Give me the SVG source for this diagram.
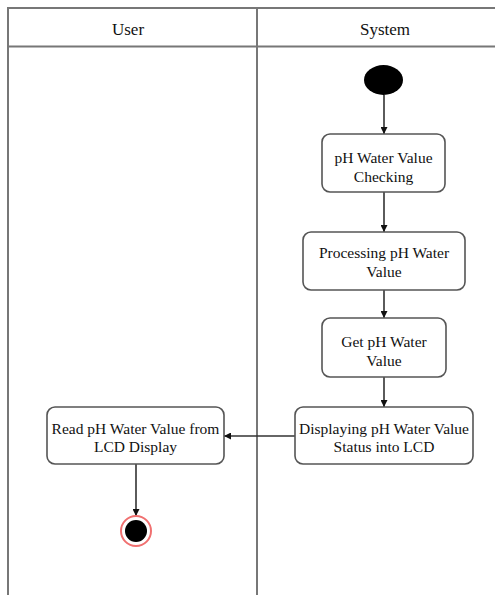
<svg xmlns="http://www.w3.org/2000/svg" width="495" height="595" viewBox="0 0 495 595">
  <style>
    .lane { stroke: #777777; stroke-width: 2; fill: none; }
    .box { fill: #ffffff; stroke: #555555; stroke-width: 1.6; }
    .flow { stroke: #333333; stroke-width: 1.6; fill: none; marker-end: url(#arrow); }
    text { font-family: "Liberation Serif", "DejaVu Serif", serif; font-size: 15.5px; fill: #111111; text-anchor: middle; }
    .head { font-size: 17px; }
  </style>
  <defs>
    <marker id="arrow" viewBox="0 0 10 10" refX="10" refY="5" markerWidth="7" markerHeight="7" markerUnits="userSpaceOnUse" orient="auto">
      <path d="M0,0 L10,5 L0,10 z" fill="#111111"/>
    </marker>
  </defs>

  <rect width="495" height="595" fill="#ffffff"/>

  <!-- swimlanes -->
  <g id="lanes">
    <line class="lane" x1="8" y1="8" x2="495" y2="8"/>
    <line class="lane" x1="8" y1="46.5" x2="495" y2="46.5"/>
    <line class="lane" x1="8" y1="7" x2="8" y2="595"/>
    <line class="lane" x1="257" y1="7" x2="257" y2="595"/>
    <text class="head" x="128" y="35">User</text>
    <text class="head" x="385" y="35">System</text>
  </g>

  <!-- connectors -->
  <g id="connectors">
    <line class="flow" x1="384" y1="95" x2="384" y2="134"/>
    <line class="flow" x1="384" y1="192" x2="384" y2="232"/>
    <line class="flow" x1="384" y1="290" x2="384" y2="318"/>
    <line class="flow" x1="384" y1="377" x2="384" y2="407"/>
    <line class="flow" x1="295" y1="436" x2="224" y2="436"/>
    <line class="flow" x1="136" y1="464" x2="136" y2="516"/>
  </g>

  <g id="start">
    <ellipse cx="383.5" cy="80" rx="19.5" ry="15" fill="#000000"/>
  </g>

  <g id="check">
    <rect class="box" x="322" y="134" width="123" height="58" rx="8"/>
    <text x="383.5" y="163">pH Water Value</text>
    <text x="383.5" y="182">Checking</text>
  </g>

  <g id="process">
    <rect class="box" x="303" y="232" width="162" height="58" rx="8"/>
    <text x="384" y="258">Processing pH Water</text>
    <text x="384" y="277">Value</text>
  </g>

  <g id="get">
    <rect class="box" x="322" y="318" width="124" height="59" rx="8"/>
    <text x="384" y="347">Get pH Water</text>
    <text x="384" y="366">Value</text>
  </g>

  <g id="display">
    <rect class="box" x="295" y="407" width="178" height="57" rx="8"/>
    <text x="384" y="434">Displaying pH Water Value</text>
    <text x="384" y="452">Status into LCD</text>
  </g>

  <g id="read">
    <rect class="box" x="47" y="407" width="177" height="57" rx="8"/>
    <text x="135.5" y="434">Read pH Water Value from</text>
    <text x="135.5" y="452">LCD Display</text>
  </g>

  <g id="end">
    <circle cx="136" cy="531" r="15" fill="#ffffff" stroke="#f07070" stroke-width="2"/>
    <circle cx="136" cy="531" r="11" fill="#000000"/>
  </g>
</svg>
